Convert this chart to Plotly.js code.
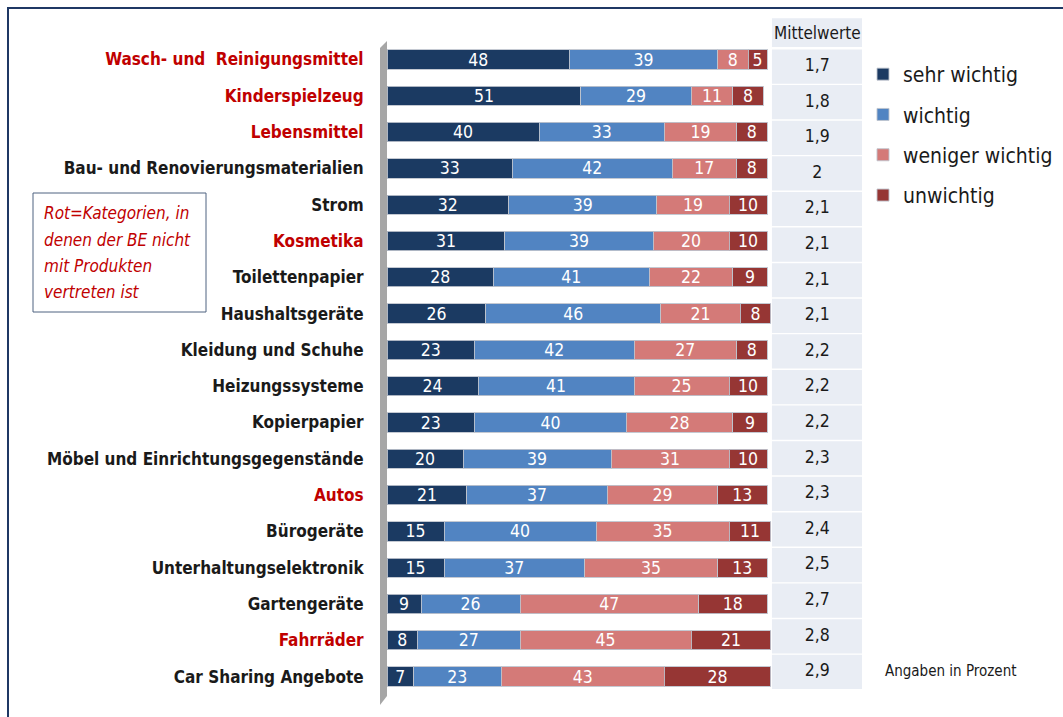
<!DOCTYPE html>
<html>
<head>
<meta charset="utf-8">
<script src="https://cdn.plot.ly/plotly-3.0.1.min.js"></script>
<style>html,body{margin:0;padding:0;background:#fff;overflow:hidden;}#chart{width:1063px;height:717px;}</style>
</head>
<body>
<div id="chart"></div>
<script>
const categories = [
  "Wasch- und  Reinigungsmittel", "Kinderspielzeug", "Lebensmittel", "Bau- und Renovierungsmaterialien",
  "Strom", "Kosmetika", "Toilettenpapier", "Haushaltsgeräte", "Kleidung und Schuhe",
  "Heizungssysteme", "Kopierpapier", "Möbel und Einrichtungsgegenstände", "Autos",
  "Bürogeräte", "Unterhaltungselektronik", "Gartengeräte", "Fahrräder", "Car Sharing Angebote"
];
const redCategories = ["Wasch- und  Reinigungsmittel", "Kinderspielzeug", "Lebensmittel", "Kosmetika", "Autos", "Fahrräder"];
const sehrWichtig    = [48, 51, 40, 33, 32, 31, 28, 26, 23, 24, 23, 20, 21, 15, 15, 9, 8, 7];
const wichtig        = [39, 29, 33, 42, 39, 39, 41, 46, 42, 41, 40, 39, 37, 40, 37, 26, 27, 23];
const wenigerWichtig = [8, 11, 19, 17, 19, 20, 22, 21, 27, 25, 28, 31, 29, 35, 35, 47, 45, 43];
const unwichtig      = [5, 8, 8, 8, 10, 10, 9, 8, 8, 10, 9, 10, 13, 11, 13, 18, 21, 28];
const mittelwerte    = ["1,7", "1,8", "1,9", "2", "2,1", "2,1", "2,1", "2,1", "2,2", "2,2", "2,2", "2,3", "2,3", "2,4", "2,5", "2,7", "2,8", "2,9"];
const seriesNames  = ["sehr wichtig", "wichtig", "weniger wichtig", "unwichtig"];
const seriesColors = ["#1b3a62", "#5184c2", "#d47a78", "#963634"];
const noteLines = ["Rot=Kategorien, in", "denen der BE nicht", "mit Produkten", "vertreten ist"];

const NARROW = '"DejaVu Sans Condensed", "DejaVu Sans", sans-serif';
const idx = categories.map((c, i) => i);
const seriesValues = [sehrWichtig, wichtig, wenigerWichtig, unwichtig];

// pixel helpers for layout-only decorations (plot area: x 387..1063, y 15..710)
const PL = 387, PW = 676, PT = 15, PB = 710, PH = PB - PT;
const px = p => (p - PL) / PW;
const py = p => (PB - p) / PH;

const traces = seriesValues.map((vals, s) => ({
  type: 'bar', orientation: 'h', name: seriesNames[s], legendgroup: 'g' + s,
  y: idx, x: vals, width: 0.53,
  marker: {color: seriesColors[s], line: {color: 'rgba(190,195,205,0.9)', width: 1}},
  text: vals.map(String), textposition: 'inside', insidetextanchor: 'middle',
  constraintext: 'none', textangle: 0,
  textfont: {family: NARROW, size: 17.5, color: '#ffffff'},
  hoverinfo: 'skip'
}));

// Mittelwerte column as a text trace on a second (overlaid) y-axis
traces.push({
  type: 'scatter', mode: 'text', yaxis: 'y2', showlegend: false,
  x: mittelwerte.map(() => 113.2), y: mittelwerte.map((m, i) => i + 1),
  text: mittelwerte, textposition: 'middle center',
  textfont: {family: NARROW, size: 17.5, color: '#1a1a1a'}, hoverinfo: 'skip', cliponaxis: false
});

const shapes = [];
// frame
shapes.push({type: 'rect', xref: 'paper', yref: 'paper', x0: px(8), x1: px(1080), y0: py(730), y1: py(8),
  line: {color: '#1f3864', width: 2}, fillcolor: 'rgba(0,0,0,0)', layer: 'below'});
// Mittelwerte cells
shapes.push({type: 'rect', xref: 'x', yref: 'y2', x0: 101.3, x1: 125, y0: -0.36, y1: 0.45,
  fillcolor: '#e9edf4', line: {width: 0}, layer: 'below'});
mittelwerte.forEach((m, i) => {
  shapes.push({type: 'rect', xref: 'x', yref: 'y2', x0: 101.3, x1: 125, y0: i + 1 - 0.48, y1: i + 1 + 0.48,
    fillcolor: '#e9edf4', line: {width: 0}, layer: 'below'});
});
// 3D wall left of bars
shapes.push({type: 'path', xref: 'paper', yref: 'paper',
  path: `M ${px(380)} ${py(48)} L ${px(387)} ${py(41)} L ${px(387)} ${py(696)} L ${px(380)} ${py(705)} Z`,
  fillcolor: '#a6a6a6', line: {width: 0}, layer: 'below'});
// note box
shapes.push({type: 'rect', xref: 'paper', yref: 'paper', x0: px(33), x1: px(206), y0: py(312), y1: py(193),
  line: {color: '#4f6280', width: 1}, fillcolor: '#ffffff'});

const annotations = [
  {xref: 'x', yref: 'y2', x: 113.2, y: 0.05, text: 'Mittelwerte', showarrow: false,
   font: {family: NARROW, size: 17, color: '#1a1a1a'}},
  {xref: 'paper', yref: 'paper', x: px(883), y: py(671), xanchor: 'left', yanchor: 'middle',
   text: 'Angaben in Prozent', showarrow: false, font: {family: NARROW, size: 15, color: '#1a1a1a'}}
];
const noteY = [213, 240, 266, 292];
noteLines.forEach((t, i) => annotations.push({
  xref: 'paper', yref: 'paper', x: px(42), y: py(noteY[i]), xanchor: 'left', yanchor: 'middle',
  text: t, showarrow: false, font: {family: NARROW, size: 17, color: '#c00000', style: 'italic'}
}));

const ticktext = categories.map(c => redCategories.includes(c)
  ? '<span style="color:#c00000">' + c + '</span>' : c);

const layout = {
  width: 1063, height: 717,
  margin: {l: PL, r: 0, t: PT, b: 717 - PB, pad: 0, autoexpand: false},
  paper_bgcolor: '#ffffff', plot_bgcolor: 'rgba(0,0,0,0)',
  barmode: 'stack', bargap: 0,
  font: {family: NARROW, color: '#1a1a1a'},
  xaxis: {range: [0, PW / 3.8], showgrid: false, zeroline: false, showticklabels: false, showline: false, fixedrange: true},
  yaxis: {range: [17.92, -1.226], tickvals: idx, ticktext: ticktext, showgrid: false, zeroline: false,
    showline: false, ticks: 'outside', ticklen: 19, tickcolor: 'rgba(0,0,0,0)', automargin: false,
    tickfont: {family: NARROW, size: 17, color: '#1a1a1a', weight: 'bold'}, fixedrange: true},
  yaxis2: {overlaying: 'y', anchor: 'x', range: [19.07, -0.449], visible: false, fixedrange: true},
  showlegend: true,
  legend: {x: px(863), y: py(54), xanchor: 'left', yanchor: 'top', traceorder: 'grouped', tracegroupgap: 10,
    font: {family: NARROW, size: 21, color: '#1a1a1a'}, itemwidth: 30, bgcolor: 'rgba(0,0,0,0)'},
  shapes: shapes, annotations: annotations
};

Plotly.newPlot('chart', traces, layout, {displayModeBar: false, staticPlot: true});
</script>
</body>
</html>
